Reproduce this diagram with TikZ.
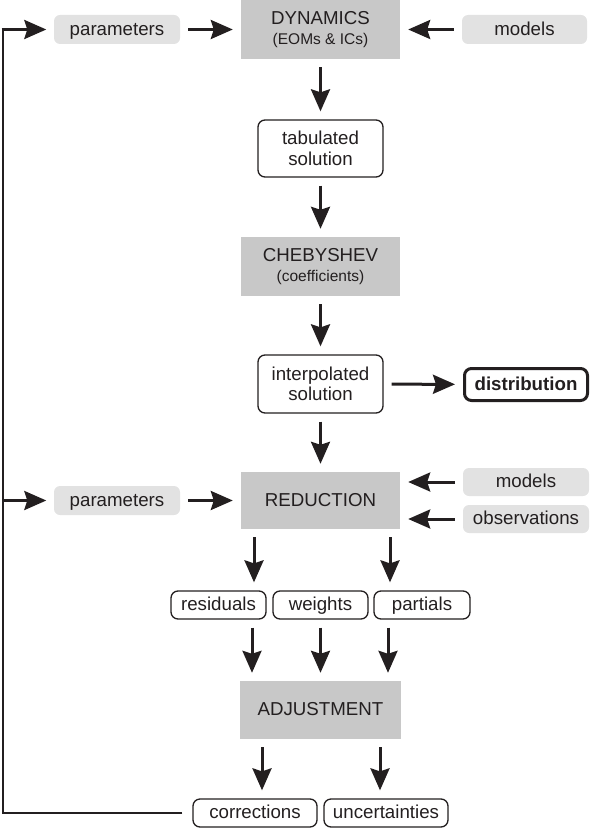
\documentclass[tikz,border=0pt]{standalone}
\usepackage{fontspec}
\setmainfont{Liberation Sans}
\usetikzlibrary{arrows.meta,calc}
\definecolor{txt}{HTML}{231F20}
\definecolor{dark}{HTML}{C8C8C8}
\definecolor{light}{HTML}{E2E2E2}
\tikzset{
  base/.style={inner sep=0pt, align=center, text=txt, font=\fontsize{18.7}{20.5}\selectfont},
  one/.style={text height=14.8pt, text depth=3.4pt},
  proc/.style={base, fill=dark, minimum width=159pt},
  inp/.style={base, one, fill=light, rounded corners=6pt, minimum width=126pt, minimum height=29pt},
  res/.style={base, draw=txt, line width=1.3pt, fill=white, rounded corners=7pt},
  arr/.style={draw=txt, line width=3pt, -{Stealth[length=22pt,width=19pt,inset=3pt]}, shorten >=8pt, shorten <=8pt},
  fb/.style={draw=txt, line width=2.7pt}
}
\begin{document}
\begin{tikzpicture}[x=1pt,y=-1pt]
\useasboundingbox (0,0) rectangle (590,829);
% nodes
\node[inp] (par1) at (117,29.5) {parameters};
\node[proc, minimum height=59pt] (dyn) at (320.5,29.5) {DYNAMICS\\[-0.5pt]{\fontsize{15.5}{18}\selectfont (EOMs \& ICs)}};
\node[inp, minimum width=125pt] (mod1) at (524.5,29.5) {models};
\node[res, minimum width=125pt, minimum height=57pt] (tab) at (320.5,148.5) {tabulated\\solution};
\node[proc, minimum height=59pt] (cheb) at (320.5,266.5) {CHEBYSHEV\\[-0.5pt]{\fontsize{15.5}{18}\selectfont (coefficients)}};
\node[res, minimum width=125pt, minimum height=58pt] (interp) at (320.5,384) {interpolated\\solution};
\node[res, one, line width=3pt, minimum width=123pt, minimum height=32pt, font=\fontsize{18.7}{20.5}\selectfont\bfseries] (dist) at (526,384.5) {distribution};
\node[proc, one, minimum height=57pt] (red) at (320.5,500.5) {REDUCTION};
\node[inp, minimum height=28pt] (mod2) at (526,482) {models};
\node[inp, minimum height=28pt] (obs) at (526,519) {observations};
\node[inp] (par2) at (117,500.5) {parameters};
\node[res, one, minimum width=95pt, minimum height=28pt] (resid) at (218.5,605) {residuals};
\node[res, one, minimum width=95pt, minimum height=28pt] (wts) at (320.5,605) {weights};
\node[res, one, minimum width=96pt, minimum height=28pt] (part) at (422,605) {partials};
\node[proc, one, minimum width=161pt, minimum height=58pt] (adj) at (320.5,710) {ADJUSTMENT};
\node[res, one, minimum width=124pt, minimum height=28pt] (corr) at (255,813) {corrections};
\node[res, one, minimum width=124pt, minimum height=28pt] (unc) at (386,813) {uncertainties};
% coordinates for feedback
\coordinate (fbot) at (3,813);
\coordinate (fmid) at (3,500.5);
\coordinate (ftop) at (3,29.5);
% connectors
\draw[arr] (par1) -- (dyn);
\draw[arr] (mod1) -- (dyn);
\draw[arr] (dyn) -- (tab);
\draw[arr] (tab) -- (cheb);
\draw[arr] (cheb) -- (interp);
\draw[arr] (interp) -- (dist);
\draw[arr] (interp) -- (red);
\draw[arr] (par2) -- (red);
\draw[arr] (mod2.west) -- (mod2.west -| red.east);
\draw[arr] (obs.west) -- (obs.west -| red.east);
\draw[arr] ([xshift=-66.5pt]red.south) -- ([xshift=-66.5pt]red.south |- resid.north);
\draw[arr] ([xshift=69.5pt]red.south) -- ([xshift=69.5pt]red.south |- part.north);
\draw[arr] ([xshift=33.5pt]resid.south) -- ([xshift=33.5pt]resid.south |- adj.north);
\draw[arr] (wts) -- (adj);
\draw[arr] ([xshift=-34pt]part.south) -- ([xshift=-34pt]part.south |- adj.north);
\draw[arr] ([xshift=-58.5pt]adj.south) -- ([xshift=-58.5pt]adj.south |- corr.north);
\draw[arr] ([xshift=59.5pt]adj.south) -- ([xshift=59.5pt]adj.south |- unc.north);
\draw[fb] ([xshift=-10pt]corr.west) -- (fbot) -- (ftop);
\draw[arr, shorten <=0pt, shorten >=7.5pt] ([xshift=-1.35pt]ftop) -- (par1.west);
\draw[arr, shorten <=0pt, shorten >=7.5pt] (fmid) -- (par2.west);
\end{tikzpicture}
\end{document}
